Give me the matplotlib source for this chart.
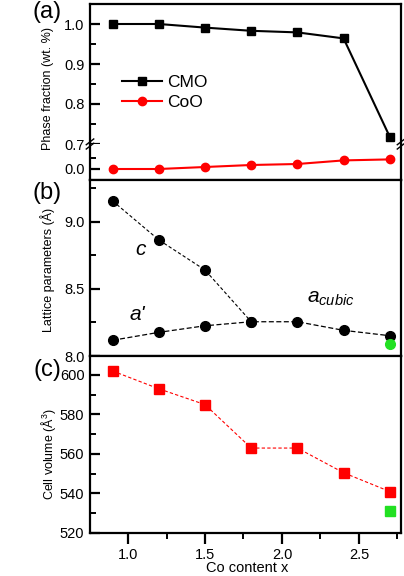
import numpy as np
import matplotlib
matplotlib.use('Agg')
import matplotlib.pyplot as plt
from matplotlib.ticker import MultipleLocator, FixedLocator

plt.rcParams['font.family'] = ['Liberation Sans', 'DejaVu Sans']
plt.rcParams['mathtext.fontset'] = 'custom'
plt.rcParams['mathtext.rm'] = 'Liberation Sans'
plt.rcParams['mathtext.it'] = 'Liberation Sans:italic'

# data
co_x = [0.9, 1.2, 1.5, 1.8, 2.1, 2.4, 2.7]
cmo_frac = [1.0, 1.0, 0.991, 0.983, 0.979, 0.964, 0.718]
coo_frac = [0.0, 0.0, 0.005, 0.010, 0.0125, 0.0215, 0.024]

c_x = [0.9, 1.2, 1.5, 1.8]
c_par = [9.154, 8.864, 8.64, 8.255]
a_par = [8.117, 8.176, 8.225, 8.255, 8.255, 8.191, 8.151]
green_x = [2.7]
green_a = [8.091]

cell_vol = [602, 593, 585, 563, 563, 550.5, 541]
green_vol = [531]

W, H = 404, 576
fig = plt.figure(figsize=(W / 100, H / 100), dpi=100)

def box(top, bot):
    return [90 / W, 1 - bot / H, 311 / W, (bot - top) / H]

ax_up = fig.add_axes(box(4, 144))
ax_lo = fig.add_axes(box(144, 180))
ax_b = fig.add_axes(box(180, 356))
ax_c = fig.add_axes(box(356, 533))

xlim = (0.753, 2.773)
tfs = 10.5
for ax in [ax_up, ax_lo, ax_b, ax_c]:
    ax.set_xlim(xlim)
    for s in ax.spines.values():
        s.set_linewidth(1.6)
    ax.xaxis.set_major_locator(MultipleLocator(0.5))
    ax.xaxis.set_minor_locator(MultipleLocator(0.25))
    ax.tick_params(axis='x', which='major', direction='out', length=8, width=1.6,
                   top=False, labelbottom=False, pad=2.5, labelsize=tfs)
    ax.tick_params(axis='x', which='minor', direction='out', length=4, width=1.4, top=False)
    ax.tick_params(axis='y', which='major', direction='in', length=7, width=1.6,
                   right=False, pad=4, labelsize=tfs)
    ax.tick_params(axis='y', which='minor', direction='in', length=4, width=1.4, right=False)

# (a) broken axis
ax_up.spines['bottom'].set_visible(False)
ax_up.tick_params(axis='x', which='both', bottom=False)
ax_lo.spines['top'].set_visible(False)

ax_up.plot(co_x, cmo_frac, '-s', color='black', lw=1.5, ms=5.8, label='CMO')
ax_lo.plot(co_x, coo_frac, '-o', color='red', lw=1.5, ms=6, label='CoO')
l_red, = ax_up.plot([], [], '-o', color='red', lw=1.5, ms=6, label='CoO')

ax_up.set_ylim(0.7, 1.05)
ax_up.yaxis.set_major_locator(FixedLocator([0.7, 0.8, 0.9, 1.0]))
ax_up.yaxis.set_minor_locator(FixedLocator([0.75, 0.85, 0.95]))
ax_lo.set_ylim(-0.0275, 0.0625)
ax_lo.yaxis.set_major_locator(FixedLocator([0.0]))
ax_lo.yaxis.set_minor_locator(FixedLocator([0.028]))
ax_lo.yaxis.set_major_formatter(plt.FuncFormatter(lambda v, p: f'{v:.1f}'))

ax_up.legend(loc='center left', bbox_to_anchor=(0.08, 0.37), frameon=False,
             fontsize=12.5, handlelength=2.3, handletextpad=0.3, labelspacing=0.3,
             borderaxespad=0)

# break marks
d = 0.012
for xs in [0, 1]:
    for off in [-0.06, 0.06]:
        ax_lo.plot([xs - d, xs + d], [1 + off - 0.08, 1 + off + 0.08], color='black',
                   lw=1.0, transform=ax_lo.transAxes, clip_on=False)

# (b) lattice parameters
ax_b.plot(c_x, c_par, 'o', color='black', ls=(0, (3, 2)), lw=0.8, ms=7)
ax_b.plot(co_x, a_par, 'o', color='black', ls=(0, (4, 2)), lw=0.9, ms=7)
ax_b.plot(green_x, green_a, 'o', color='#22e022', ms=7)
ax_b.set_ylim(8.0, 9.31)
ax_b.yaxis.set_major_locator(MultipleLocator(0.5))
ax_b.yaxis.set_minor_locator(MultipleLocator(0.25))
ax_b.yaxis.set_major_formatter(plt.FuncFormatter(lambda v, p: f'{v:.1f}'))
ax_b.text(1.08, 8.79, 'c', fontsize=15, style='italic', ha='center', va='center')
ax_b.text(1.06, 8.31, "a'", fontsize=15, style='italic', ha='center', va='center')
ax_b.text(2.16, 8.43, r'$a_{cubic}$', fontsize=15, ha='left', va='center')

# (c) cell volume
ax_c.plot(co_x, cell_vol, 's', color='red', ls=(0, (3, 2)), lw=0.8, ms=6.5)
ax_c.plot(green_x, green_vol, 's', color='#22e022', ms=6.5)
ax_c.set_ylim(520, 609.6)
ax_c.yaxis.set_major_locator(MultipleLocator(20))
ax_c.yaxis.set_minor_locator(MultipleLocator(10))
ax_c.tick_params(axis='x', which='major', labelbottom=True)

# labels
fig.text(48 / W, 1 - 89 / H, 'Phase fraction (wt. %)', rotation=90, fontsize=9,
         ha='center', va='center')
fig.text(48 / W, 1 - 270 / H, 'Lattice parameters (\u00c5)', rotation=90, fontsize=9,
         ha='center', va='center')
fig.text(48 / W, 1 - 454 / H, r'Cell volume ($\mathrm{\AA^3}$)', rotation=90, fontsize=9,
         ha='center', va='center')
fig.text(247 / W, 1 - 575 / H, 'Co content x', fontsize=10.5, ha='center', va='bottom')

fig.text(47 / W, 1 - 12 / H, '(a)', fontsize=17, ha='center', va='center')
fig.text(47 / W, 1 - 193 / H, '(b)', fontsize=17, ha='center', va='center')
fig.text(47 / W, 1 - 370 / H, '(c)', fontsize=17, ha='center', va='center')

fig.savefig('out.png', dpi=100)
